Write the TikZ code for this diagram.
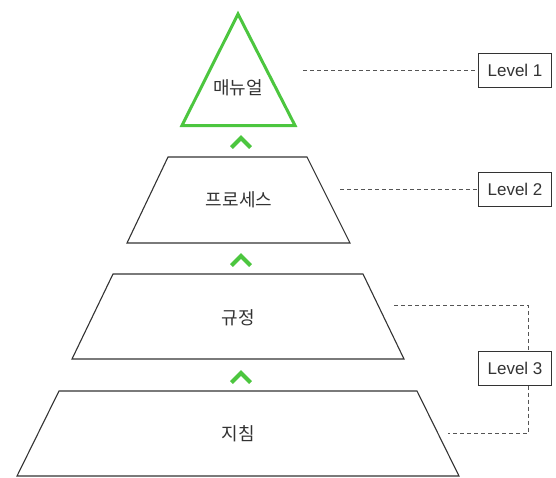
\documentclass[tikz,border=0pt]{standalone}
\usepackage{fontspec}
\setmainfont{Liberation Sans}
\newfontfamily\krfont{Noto Sans CJK KR}
\definecolor{lgreen}{HTML}{4CC63F}
\definecolor{ink}{HTML}{333333}
\definecolor{dashgray}{HTML}{555555}
\begin{document}
\begin{tikzpicture}[x=1pt,y=-1pt,
  layer/.style={draw=ink, line width=1.1pt, line join=miter},
  tri/.style={draw=lgreen, line width=3pt, line join=miter},
  chev/.style={draw=lgreen, line width=4pt, line cap=butt, line join=miter},
  lvl/.style={draw=ink, line width=1pt, minimum width=73pt, minimum height=34pt, inner sep=0pt, font=\fontsize{17}{17}\selectfont, text=ink},
  lbl/.style={font=\krfont\fontsize{18}{18}\selectfont, text=ink, inner sep=0pt},
  link/.style={draw=dashgray, line width=1pt, dash pattern=on 4pt off 3pt}]
\useasboundingbox (0,0) rectangle (556,477);

% pyramid
\draw[tri] (238,14) -- (295,125.5) -- (182,125.5) -- cycle;
\draw[layer] (168,157) -- (307,157) -- (350,243) -- (127,243) -- cycle;
\draw[layer] (113,274) -- (363,274) -- (404,359) -- (72,359) -- cycle;
\draw[layer] (59,391) -- (417,391) -- (459,476) -- (17,476) -- cycle;

% chevrons
\draw[chev] (231.5,147.5) -- (241,138) -- (250.5,147.5);
\draw[chev] (231.5,265.5) -- (241,256) -- (250.5,265.5);
\draw[chev] (231.5,382.5) -- (241,373) -- (250.5,382.5);

% labels
\node[lbl] (t1) at (238,88) {매뉴얼};
\node[lbl] (t2) at (239,200) {프로세스};
\node[lbl] (t3) at (238,318) {규정};
\node[lbl] (t4) at (238,434) {지침};

% level boxes
\node[lvl] (L1) at (515,70) {Level 1};
\node[lvl] (L2) at (515,189) {Level 2};
\node[lvl] (L3) at (515,368) {Level 3};

% connectors
\coordinate (d1) at (303,70);
\coordinate (d2) at (340,189);
\coordinate (d3) at (394,305);
\coordinate (d4) at (448,433);
\coordinate (jx) at (528,0);
\draw[link] (d1) -- (L1.west);
\draw[link] (d2) -- (L2.west);
\draw[link] (d3) -| (L3.north -| jx);
\draw[link] (L3.south -| jx) |- (d4);
\end{tikzpicture}
\end{document}
